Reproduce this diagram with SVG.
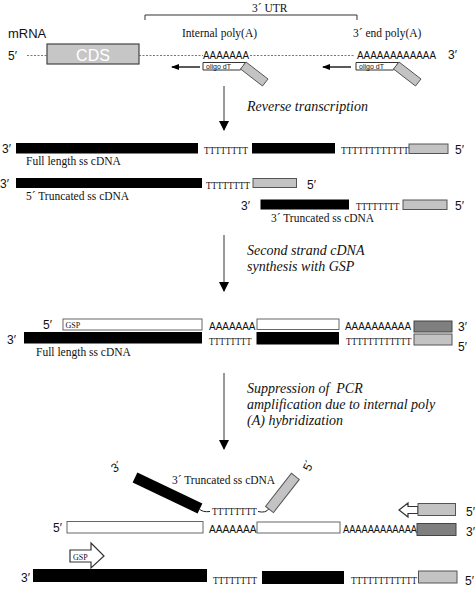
<svg xmlns="http://www.w3.org/2000/svg" width="476" height="590" viewBox="0 0 476 590">
<defs>
<style>
.sans{font-family:"Liberation Sans",Arial,sans-serif;fill:#111}
.serif{font-family:"Liberation Serif","Times New Roman",serif;fill:#111}
.end{font-size:12px}
.aa{font-size:10px}
.tt{font-size:10px}
.lbl{font-size:11.5px}
.step{font-size:14px;font-style:italic}
.blk{fill:#000}
.lg{fill:#c3c3c3;stroke:#555;stroke-width:1}
.dg{fill:#7f7f7f;stroke:#444;stroke-width:1}
.wh{fill:#fff;stroke:#666;stroke-width:1}
.dash{stroke:#555;stroke-width:0.8;stroke-dasharray:2,1.5;fill:none}
.conn{stroke:#333;stroke-width:1;fill:none}
</style>
<marker id="ah" markerWidth="10" markerHeight="12" refX="9" refY="5" orient="auto" markerUnits="userSpaceOnUse">
<path d="M0,0 L10,5 L0,10 Z" fill="#000"/>
</marker>
<marker id="sh" markerWidth="8" markerHeight="6" refX="7" refY="3" orient="auto" markerUnits="userSpaceOnUse">
<path d="M0,0 L8,3 L0,6 Z" fill="#000"/>
</marker>
</defs>
<rect width="476" height="590" fill="#fff"/>

<g id="utr">
<path d="M145,20 V15 H357 V20" fill="none" stroke="#333" stroke-width="1"/>
<text class="serif lbl" x="252" y="12">3´ UTR</text>
<text class="serif lbl" x="182" y="37">Internal poly(A)</text>
<text class="serif lbl" x="353" y="37">3´ end poly(A)</text>
</g>
<g id="mrna">
<text class="sans" x="8" y="38" font-size="13">mRNA</text>
<text class="sans end" x="8" y="60">5′</text>
<line class="dash" x1="27" y1="55.5" x2="47" y2="55.5"/>
<rect x="47" y="44" width="92" height="20" fill="#c6c6c6" stroke="#444" stroke-width="1.2"/>
<text class="sans" x="93" y="60.5" font-size="16" style="fill:#fff" text-anchor="middle">CDS</text>
<line class="dash" x1="139" y1="55.5" x2="203" y2="55.5"/>
<text class="sans aa" x="203" y="58.5" textLength="46" lengthAdjust="spacingAndGlyphs">AAAAAAA</text>
<line class="dash" x1="250" y1="55.5" x2="355" y2="55.5"/>
<text class="sans aa" x="357" y="58.5" textLength="79" lengthAdjust="spacingAndGlyphs">AAAAAAAAAAAA</text>
<text class="sans end" x="448" y="58.5">3′</text>
</g>
<g id="oligo1">
<polygon points="203,62.5 245.5,62.5 240.5,70 203,70" class="wh" style="stroke:#333"/>
<text class="sans" x="206" y="69" font-size="7">oligo dT</text>
<polygon points="246,62 268,79 262.5,86 240.5,69" class="lg"/>
</g>
<g id="oligo2">
<polygon points="356,62.5 398.5,62.5 393.5,70 356,70" class="wh" style="stroke:#333"/>
<text class="sans" x="359" y="69" font-size="7">oligo dT</text>
<polygon points="399,62 421,79 415.5,86 393.5,69" class="lg"/>
</g>

<g id="connectors">
<line x1="200" y1="67" x2="172" y2="67" stroke="#000" stroke-width="1.3" marker-end="url(#sh)"/>
<line x1="351" y1="67" x2="323" y2="67" stroke="#000" stroke-width="1.3" marker-end="url(#sh)"/>
<line class="conn" x1="224" y1="86" x2="224" y2="130" marker-end="url(#ah)"/>
<line class="conn" x1="224" y1="235" x2="224" y2="291" marker-end="url(#ah)"/>
<line class="conn" x1="224" y1="373" x2="224" y2="449" marker-end="url(#ah)"/>
</g>

<g id="step-labels">
<text class="serif step" x="247" y="111">Reverse transcription</text>
<text class="serif step" x="247" y="255">Second strand cDNA</text>
<text class="serif step" x="247" y="271">synthesis with GSP</text>
<text class="serif step" x="247" y="393" xml:space="preserve">Suppression of  PCR</text>
<text class="serif step" x="247" y="409">amplification due to internal poly</text>
<text class="serif step" x="247" y="425">(A) hybridization</text>
</g>

<g id="full-length">
<text class="sans end" x="2" y="152.5">3′</text>
<rect class="blk" x="16" y="143" width="182" height="10.5"/>
<text class="serif tt" x="204" y="153.5" textLength="44" lengthAdjust="spacingAndGlyphs">TTTTTTTT</text>
<rect class="blk" x="252" y="143" width="83" height="10.5"/>
<text class="serif tt" x="341" y="153.5" textLength="68" lengthAdjust="spacingAndGlyphs">TTTTTTTTTTTT</text>
<rect class="lg" x="409" y="144" width="39" height="9.5"/>
<text class="sans end" x="455" y="154">5′</text>
<text class="serif lbl" x="26" y="164.5">Full length ss cDNA</text>
</g>
<g id="trunc5">
<text class="sans end" x="0" y="188">3′</text>
<rect class="blk" x="16" y="178" width="186" height="10"/>
<text class="serif tt" x="206" y="188.5" textLength="44" lengthAdjust="spacingAndGlyphs">TTTTTTTT</text>
<rect class="lg" x="253" y="178.5" width="43.5" height="9"/>
<text class="sans end" x="307" y="188.5">5′</text>
<text class="serif lbl" x="26" y="199.5">5´ Truncated ss cDNA</text>
</g>
<g id="trunc3">
<text class="sans end" x="241" y="210">3′</text>
<rect class="blk" x="260.5" y="199.5" width="88.5" height="10"/>
<text class="serif tt" x="356" y="210" textLength="43.5" lengthAdjust="spacingAndGlyphs">TTTTTTTT</text>
<rect class="lg" x="403" y="200" width="44" height="9.5"/>
<text class="sans end" x="455" y="210">5′</text>
<text class="serif lbl" x="271" y="221.5">3´ Truncated ss cDNA</text>
</g>

<g id="ds-full">
<text class="sans end" x="43" y="329">5′</text>
<rect class="wh" x="63" y="319" width="139" height="11"/>
<text class="serif" x="65.5" y="327.5" font-size="8">GSP</text>
<text class="sans aa" x="209" y="330" textLength="46.5" lengthAdjust="spacingAndGlyphs">AAAAAAA</text>
<rect class="wh" x="257" y="319" width="82" height="10.5"/>
<text class="sans aa" x="345" y="330" textLength="66" lengthAdjust="spacingAndGlyphs">AAAAAAAAAA</text>
<rect class="dg" x="414" y="321" width="38" height="11"/>
<text class="sans end" x="458" y="331">3′</text>
<text class="sans end" x="7" y="343.5">3′</text>
<rect class="blk" x="24" y="332" width="178" height="11.5"/>
<text class="serif tt" x="209" y="345" textLength="42.5" lengthAdjust="spacingAndGlyphs">TTTTTTTT</text>
<rect class="blk" x="256.5" y="332" width="82.5" height="12.5"/>
<text class="serif tt" x="346" y="345" textLength="65.5" lengthAdjust="spacingAndGlyphs">TTTTTTTTTTTT</text>
<rect class="lg" x="414" y="334" width="38" height="11"/>
<text class="sans end" x="458" y="351">5′</text>
<text class="serif lbl" x="36" y="355.5">Full length ss cDNA</text>
</g>

<g id="hybrid-trunc3">
<text class="sans end" transform="translate(114,473) rotate(-30)" x="0" y="0">3´</text>
<rect class="blk" x="0" y="-5.5" width="72" height="11" transform="translate(135,477.5) rotate(25.5)"/>
<path d="M199,508.5 q3,4 11,3" fill="none" stroke="#222" stroke-width="1"/>
<text class="serif tt" x="212" y="514.5" textLength="45" lengthAdjust="spacingAndGlyphs">TTTTTTTT</text>
<path d="M258,511.5 q8,2 11,-3" fill="none" stroke="#222" stroke-width="1"/>
<rect class="lg" x="0" y="-5" width="42" height="10" transform="translate(269.5,509.5) rotate(-52)"/>
<text class="sans end" transform="translate(310,472) rotate(-65)" x="0" y="0">5´</text>
<text class="serif lbl" x="172" y="484">3´ Truncated ss cDNA</text>
</g>
<g id="rev-primer">
<polygon points="399,510 408,503 408,506.5 418,506.5 418,513.5 408,513.5 408,517" fill="#fff" stroke="#333" stroke-width="1.2"/>
<rect class="lg" x="418" y="503.5" width="37.5" height="12"/>
<text class="sans end" x="466" y="515.5">5′</text>
</g>
<g id="sense-strand">
<text class="sans end" x="53" y="532">5′</text>
<rect class="wh" x="67" y="521.5" width="136" height="11.5"/>
<text class="sans aa" x="209" y="533" textLength="47.5" lengthAdjust="spacingAndGlyphs">AAAAAAA</text>
<rect class="wh" x="257" y="522" width="83" height="11"/>
<text class="sans aa" x="343" y="533" textLength="74" lengthAdjust="spacingAndGlyphs">AAAAAAAAAAAA</text>
<rect class="dg" x="417" y="523.5" width="39" height="12"/>
<text class="sans end" x="466" y="536">3′</text>
</g>
<g id="gsp-primer">
<polygon points="70,550 91,550 91,543 104,556 91,568 91,562 70,562" fill="#fff" stroke="#333" stroke-width="1.2"/>
<text class="serif" x="73" y="559.5" font-size="8">GSP</text>
</g>
<g id="antisense-strand">
<text class="sans end" x="21" y="582">3′</text>
<rect class="blk" x="33" y="569" width="174" height="13"/>
<text class="serif tt" x="213" y="584" textLength="44" lengthAdjust="spacingAndGlyphs">TTTTTTTT</text>
<rect class="blk" x="262" y="571" width="82" height="13"/>
<text class="serif tt" x="351" y="584" textLength="66" lengthAdjust="spacingAndGlyphs">TTTTTTTTTTTT</text>
<rect class="lg" x="418.5" y="571" width="38.5" height="12"/>
<text class="sans end" x="465" y="585">5′</text>
</g>
</svg>
